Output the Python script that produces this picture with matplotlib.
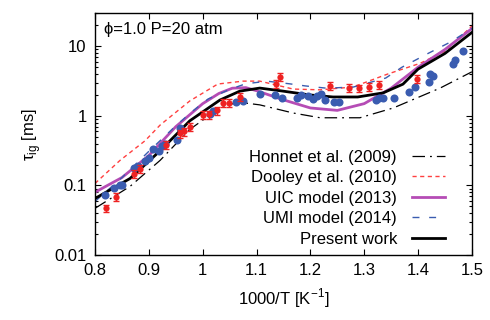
import matplotlib
matplotlib.use("Agg")
import matplotlib.pyplot as plt
from matplotlib.ticker import FixedLocator, LogLocator, NullFormatter, NullLocator

plt.rcParams["font.family"] = ["Liberation Sans", "DejaVu Sans"]
plt.rcParams["font.size"] = 12
plt.rcParams["mathtext.fontset"] = "custom"
plt.rcParams["mathtext.rm"] = "Liberation Sans"

# experimental data, 1000/T vs ignition delay [ms]
exp_red_x = [0.820, 0.839, 0.872, 0.884, 0.932, 0.958, 0.965, 0.976, 1.001, 1.012,
             1.026, 1.038, 1.048, 1.070, 1.136, 1.143, 1.236, 1.272, 1.291, 1.309,
             1.328, 1.398]
exp_red_y = [0.047, 0.068, 0.147, 0.173, 0.385, 0.56, 0.60, 0.70, 1.03, 1.05,
             1.20, 1.55, 1.55, 1.87, 2.89, 3.6, 2.68, 2.54, 2.50, 2.60,
             2.77, 3.41]

exp_blue_x = [0.819, 0.835, 0.846, 0.850, 0.872, 0.880, 0.893, 0.901, 0.908, 0.918,
              0.924, 0.930, 0.953, 0.957, 1.014, 1.019, 1.062, 1.074, 1.106, 1.134,
              1.148, 1.176, 1.182, 1.196, 1.204, 1.212, 1.220, 1.227, 1.244, 1.254,
              1.322, 1.328, 1.334, 1.356, 1.383, 1.394, 1.421, 1.422, 1.428, 1.465,
              1.468, 1.483]
exp_blue_y = [0.074, 0.093, 0.103, 0.10, 0.179, 0.19, 0.228, 0.25, 0.334, 0.31,
              0.37, 0.40, 0.45, 0.67, 1.08, 1.18, 1.6, 1.66, 2.04, 1.98,
              1.79, 1.82, 2.0, 1.95, 1.74, 1.93, 2.04, 1.67, 1.59, 1.59,
              1.70, 1.79, 1.79, 1.79, 2.2, 2.6, 3.1, 4.0, 3.7, 5.6,
              6.4, 8.7]

# model curves
honnet_x = [0.80, 0.865, 0.921, 0.976, 1.032, 1.065, 1.106, 1.168, 1.218, 1.292, 1.354, 1.441, 1.50]
honnet_y = [0.047, 0.097, 0.23, 0.64, 1.30, 1.58, 1.44, 1.10, 0.94, 0.94, 1.30, 2.51, 4.3]

dooley_x = [0.80, 0.846, 0.893, 0.921, 0.976, 1.028, 1.075, 1.106, 1.168, 1.218, 1.279, 1.343, 1.404, 1.45, 1.50]
dooley_y = [0.107, 0.228, 0.44, 0.74, 1.64, 2.87, 3.16, 3.16, 2.43, 2.37, 2.6, 3.98, 5.7, 8.5, 19.5]

uic_x = [0.80, 0.85, 0.90, 0.95, 1.00, 1.03, 1.055, 1.08, 1.10, 1.15, 1.20, 1.25, 1.30, 1.35, 1.40, 1.45, 1.50]
uic_y = [0.08, 0.13, 0.27, 0.70, 1.50, 2.10, 2.50, 2.55, 2.30, 1.70, 1.30, 1.20, 1.50, 2.50, 5.0, 9.0, 18.0]

umi_x = [0.80, 0.85, 0.90, 0.95, 0.98, 1.01, 1.05, 1.08, 1.12, 1.16, 1.19, 1.23, 1.28, 1.34, 1.37, 1.42, 1.46, 1.50]
umi_y = [0.059, 0.13, 0.31, 0.72, 1.15, 1.75, 2.4, 2.9, 3.15, 2.9, 2.7, 2.5, 2.6, 3.5, 5.0, 8.0, 11.5, 18.0]

present_x = [0.80, 0.865, 0.921, 0.976, 1.032, 1.069, 1.106, 1.149, 1.199, 1.242, 1.288, 1.335, 1.372, 1.40, 1.45, 1.50]
present_y = [0.065, 0.126, 0.316, 0.85, 1.69, 2.27, 2.51, 2.27, 2.0, 1.87, 1.87, 2.14, 2.86, 4.7, 7.9, 15.8]

fig = plt.figure(figsize=(4.9, 3.2), dpi=100)
ax = fig.add_axes([0.194, 0.203, 0.769, 0.756])

ax.plot(honnet_x, honnet_y, color="black", lw=0.9, dashes=(10, 4, 1.5, 4),
        label="Honnet et al. (2009)")
ax.plot(dooley_x, dooley_y, color="#ff4040", lw=1.0, dashes=(3, 2.5),
        label="Dooley et al. (2010)")
ax.plot(uic_x, uic_y, color="#b54cb5", lw=2.0, label="UIC model (2013)")
ax.plot(umi_x, umi_y, color="#3a5cb0", lw=1.0, dashes=(5, 7),
        label="UMI model (2014)")
ax.plot(present_x, present_y, color="black", lw=2.0, label="Present work")

ax.plot(exp_blue_x, exp_blue_y, "o", color="#3a5cb0", ms=5.8, mec="none", zorder=3)
ax.errorbar(exp_red_x, exp_red_y, yerr=[0.13 * v for v in exp_red_y], fmt="o",
            color="#ee2222", ms=4.5, mec="none", elinewidth=1, capsize=2.2,
            capthick=1, zorder=4)

ax.set_yscale("log")
ax.set_xlim(0.8, 1.5)
ax.set_ylim(0.01, 30)
ax.set_xticks([0.8, 0.9, 1.0, 1.1, 1.2, 1.3, 1.4, 1.5])
ax.set_xticklabels(["0.8", "0.9", "1", "1.1", "1.2", "1.3", "1.4", "1.5"])
ax.xaxis.set_minor_locator(NullLocator())
ax.yaxis.set_major_locator(FixedLocator([0.01, 0.1, 1, 10]))
ax.set_yticklabels(["0.01", "0.1", "1", "10"])
ax.yaxis.set_minor_locator(LogLocator(base=10, subs=range(2, 10)))
ax.yaxis.set_minor_formatter(NullFormatter())
ax.tick_params(which="both", direction="in", top=True, right=True, width=0.8)
ax.tick_params(which="major", length=4, pad=6, labelsize=12)
ax.tick_params(which="minor", length=2)
for s in ax.spines.values():
    s.set_linewidth(1.0)

ax.set_xlabel("1000/T [K$^{\\mathregular{-1}}$]", fontsize=12, labelpad=6)
ax.set_ylabel("τ$_{\\mathregular{ig}}$ [ms]", fontsize=12, labelpad=8)

ax.text(0.025, 0.965, "ϕ=1.0 P=20 atm", transform=ax.transAxes, ha="left", va="top",
        fontsize=12)

ax.legend(loc="lower right", bbox_to_anchor=(0.965, -0.02), frameon=False, markerfirst=False,
          handlelength=2.0, handletextpad=0.9, labelspacing=0.33, borderaxespad=0.4,
          fontsize=12)

fig.savefig("out.png", dpi=100)
